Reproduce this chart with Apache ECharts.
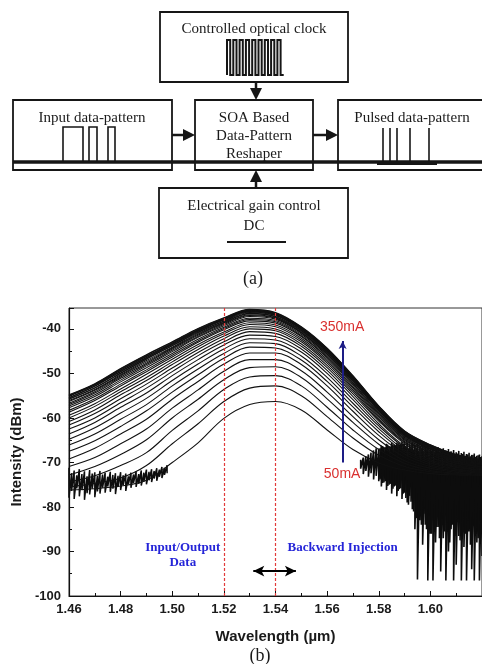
<!DOCTYPE html>
<html>
<head>
<meta charset="utf-8">
<script src="https://cdn.jsdelivr.net/npm/echarts@6/dist/echarts.min.js"></script>
<style>
  html, body { margin: 0; padding: 0; background: #fff; }
  #main { width: 482px; height: 664px; }
</style>
</head>
<body>
<div id="main"></div>
<script>
// wavelength grid (µm) and drive currents (mA)
var wavelengths = [1.46, 1.47, 1.48, 1.49, 1.50, 1.51, 1.52, 1.53, 1.54, 1.55, 1.56, 1.57, 1.58, 1.59, 1.60, 1.61, 1.62];
var currents = [50, 60, 70, 80, 90, 100, 110, 120, 130, 140, 150, 160, 170, 180, 190, 200,
  210, 220, 230, 240, 250, 260, 270, 280, 290, 300, 310, 320, 330, 340, 350];

// ASE spectra (dBm), one row per current
var spectra = [
  [-76.2, -75.9, -75.3, -74.0, -70.0, -65.6, -60.1, -57.0, -56.3, -58.2, -62.7, -67.1, -70.1, -71.7, -72.5, -72.8, -72.9],
  [-75.5, -74.7, -73.5, -70.7, -65.8, -61.3, -56.3, -53.3, -52.8, -55.0, -59.7, -64.5, -68.4, -70.9, -72.1, -72.6, -72.8],
  [-74.4, -73.0, -70.7, -67.8, -62.8, -58.4, -53.6, -50.8, -50.5, -52.8, -57.6, -62.7, -67.1, -70.2, -71.8, -72.4, -72.7],
  [-72.8, -70.9, -68.2, -64.9, -60.0, -55.8, -51.4, -48.7, -48.5, -50.9, -55.7, -61.0, -65.9, -69.6, -71.3, -72.2, -72.6],
  [-70.9, -68.9, -65.8, -62.5, -57.8, -53.7, -49.5, -46.9, -46.9, -49.4, -54.2, -59.7, -64.9, -68.8, -70.9, -71.9, -72.4],
  [-69.2, -66.8, -63.6, -60.3, -55.8, -51.8, -47.9, -45.4, -45.4, -48.0, -52.8, -58.5, -63.9, -68.1, -70.5, -71.6, -72.2],
  [-67.5, -65.1, -61.9, -58.4, -54.2, -50.3, -46.6, -44.1, -44.3, -47.0, -51.8, -57.5, -63.1, -67.6, -70.1, -71.4, -72.0],
  [-66.1, -63.6, -60.3, -57.0, -52.8, -49.0, -45.5, -43.1, -43.3, -46.1, -50.9, -56.7, -62.4, -67.2, -69.7, -71.1, -71.8],
  [-64.8, -62.2, -58.9, -55.6, -51.6, -47.9, -44.5, -42.2, -42.5, -45.2, -50.0, -55.9, -61.8, -66.6, -69.4, -70.9, -71.6],
  [-63.6, -61.0, -57.6, -54.4, -50.5, -46.9, -43.6, -41.4, -41.7, -44.5, -49.3, -55.2, -61.3, -66.3, -69.0, -70.7, -71.4],
  [-62.5, -60.0, -56.6, -53.3, -49.6, -46.0, -42.9, -40.6, -41.0, -43.9, -48.7, -54.6, -60.7, -65.8, -68.8, -70.5, -71.3],
  [-61.6, -59.0, -55.7, -52.4, -48.8, -45.3, -42.2, -40.0, -40.4, -43.4, -48.2, -54.1, -60.4, -65.5, -68.4, -70.2, -71.1],
  [-60.8, -58.2, -54.8, -51.6, -48.0, -44.6, -41.6, -39.5, -40.0, -42.9, -47.7, -53.7, -60.1, -65.3, -68.2, -70.1, -71.0],
  [-60.0, -57.4, -54.1, -50.9, -47.4, -44.0, -41.1, -39.0, -39.5, -42.5, -47.3, -53.3, -59.7, -65.0, -67.9, -69.9, -70.9],
  [-59.4, -56.8, -53.5, -50.2, -46.8, -43.5, -40.7, -38.6, -39.1, -42.1, -46.9, -53.0, -59.4, -64.8, -67.8, -69.7, -70.7],
  [-58.7, -56.1, -52.8, -49.6, -46.3, -43.0, -40.2, -38.2, -38.7, -41.7, -46.5, -52.6, -59.1, -64.6, -67.6, -69.6, -70.6],
  [-58.3, -55.7, -52.4, -49.2, -45.9, -42.7, -39.9, -37.9, -38.4, -41.5, -46.3, -52.3, -58.9, -64.4, -67.4, -69.4, -70.5],
  [-57.7, -55.2, -51.9, -48.7, -45.5, -42.3, -39.6, -37.6, -38.1, -41.2, -46.0, -52.1, -58.7, -64.2, -67.3, -69.3, -70.4],
  [-57.3, -54.8, -51.5, -48.3, -45.1, -41.9, -39.3, -37.2, -37.8, -40.9, -45.7, -51.8, -58.4, -64.0, -67.1, -69.2, -70.3],
  [-57.0, -54.4, -51.1, -48.0, -44.8, -41.7, -39.0, -37.0, -37.6, -40.8, -45.6, -51.7, -58.3, -63.9, -67.0, -69.1, -70.2],
  [-56.7, -54.1, -50.8, -47.7, -44.5, -41.4, -38.8, -36.8, -37.5, -40.6, -45.4, -51.5, -58.2, -63.8, -66.9, -69.0, -70.1],
  [-56.3, -53.8, -50.5, -47.4, -44.3, -41.2, -38.6, -36.6, -37.3, -40.4, -45.2, -51.3, -58.0, -63.7, -66.8, -68.9, -70.0],
  [-56.1, -53.6, -50.3, -47.1, -44.1, -41.0, -38.5, -36.5, -37.2, -40.3, -45.1, -51.3, -58.0, -63.6, -66.8, -68.9, -70.0],
  [-55.8, -53.3, -50.0, -46.8, -43.8, -40.8, -38.3, -36.3, -37.0, -40.1, -44.9, -51.1, -57.8, -63.5, -66.6, -68.7, -69.9],
  [-55.7, -53.2, -49.9, -46.7, -43.7, -40.7, -38.2, -36.2, -36.9, -40.0, -44.8, -51.0, -57.7, -63.4, -66.5, -68.6, -69.8],
  [-55.5, -52.9, -49.6, -46.5, -43.5, -40.5, -38.0, -36.1, -36.8, -40.0, -44.8, -50.9, -57.7, -63.4, -66.5, -68.6, -69.8],
  [-55.4, -52.8, -49.5, -46.4, -43.4, -40.4, -37.9, -36.0, -36.7, -39.9, -44.7, -50.8, -57.6, -63.3, -66.4, -68.5, -69.7],
  [-55.1, -52.6, -49.3, -46.2, -43.3, -40.3, -37.8, -35.9, -36.6, -39.8, -44.6, -50.8, -57.5, -63.2, -66.3, -68.5, -69.7],
  [-55.0, -52.5, -49.2, -46.1, -43.2, -40.2, -37.7, -35.8, -36.5, -39.7, -44.5, -50.7, -57.4, -63.1, -66.2, -68.4, -69.6],
  [-54.9, -52.4, -49.0, -45.9, -43.0, -40.0, -37.6, -35.7, -36.4, -39.6, -44.4, -50.6, -57.4, -63.0, -66.1, -68.3, -69.5],
  [-54.8, -52.3, -48.9, -45.8, -42.9, -39.9, -37.5, -35.6, -36.3, -39.5, -44.3, -50.5, -57.3, -62.9, -66.0, -68.2, -69.4]
];

// noise floor, short-wavelength side
var noiseLeftWl = [1.460, 1.461, 1.462, 1.463, 1.464, 1.465, 1.466, 1.467, 1.468, 1.469,
  1.470, 1.471, 1.472, 1.473, 1.474, 1.475, 1.476, 1.477, 1.478, 1.479,
  1.480, 1.481, 1.482, 1.483, 1.484, 1.485, 1.486, 1.487, 1.488, 1.489,
  1.490, 1.491, 1.492, 1.493, 1.494, 1.495, 1.496, 1.497, 1.498];
var noiseLeftTop = [-71.2, -72.4, -71.8, -72.9, -71.5, -72.6, -72.0, -73.1, -71.7, -72.5,
  -72.2, -73.0, -71.9, -72.7, -72.3, -73.2, -72.1, -72.8, -72.4, -73.0,
  -72.2, -72.9, -72.5, -73.1, -72.3, -72.7, -72.0, -72.6, -71.8, -72.3,
  -71.6, -72.1, -71.5, -71.9, -71.3, -71.6, -71.0, -71.2, -70.6];
var noiseLeftLow = [-77.9, -76.4, -78.2, -75.8, -77.6, -76.2, -78.4, -76.9, -77.2, -75.9,
  -77.8, -76.5, -77.0, -75.7, -76.8, -75.4, -76.6, -75.9, -77.1, -75.5,
  -76.2, -75.1, -76.4, -74.9, -75.7, -74.6, -75.5, -74.8, -75.2, -74.3,
  -74.9, -74.0, -74.4, -73.6, -74.1, -73.2, -73.5, -72.8, -72.4];

// noise floor, long-wavelength side
var noiseRightWl = [1.573, 1.574, 1.575, 1.576, 1.577, 1.578, 1.579,
  1.580, 1.581, 1.582, 1.583, 1.584, 1.585, 1.586, 1.587, 1.588, 1.589,
  1.590, 1.591, 1.592, 1.593, 1.594, 1.595, 1.596, 1.597, 1.598, 1.599,
  1.600, 1.601, 1.602, 1.603, 1.604, 1.605, 1.606, 1.607, 1.608, 1.609,
  1.610, 1.611, 1.612, 1.613, 1.614, 1.615, 1.616, 1.617, 1.618, 1.619, 1.620];
var noiseRightTop = [-69.4, -68.9, -68.6, -68.2, -67.8, -67.3, -66.8,
  -66.9, -66.2, -66.6, -65.8, -66.3, -65.6, -66.1, -65.5, -65.9, -65.4,
  -65.8, -65.5, -66.0, -65.6, -66.1, -65.8, -66.3, -66.0, -66.5, -66.2,
  -66.7, -66.4, -66.9, -66.6, -67.1, -66.8, -67.3, -67.0, -67.5, -67.2,
  -67.7, -67.4, -67.9, -67.6, -68.1, -67.8, -68.3, -68.0, -68.5, -68.2, -68.6];
var noiseRightLow = [-71.4, -72.6, -71.9, -73.2, -72.4, -73.8, -73.0,
  -74.2, -75.4, -74.5, -76.2, -75.0, -77.0, -75.4, -77.6, -76.0, -78.2,
  -76.8, -79.0, -77.5, -80.5, -85.0, -96.3, -83.0, -88.5, -84.0, -96.5,
  -86.0, -96.5, -88.0, -84.5, -94.5, -87.0, -96.5, -90.0, -85.0, -96.5,
  -93.0, -86.5, -96.5, -89.0, -96.5, -85.5, -94.0, -96.5, -88.0, -96.5, -91.0];
var noiseCoreWl = [1.5805, 1.5815, 1.5825, 1.5835, 1.5845, 1.5855, 1.5865, 1.5875, 1.5885, 1.5895,
  1.5905, 1.5915, 1.5925, 1.5935, 1.5945, 1.5955, 1.5965, 1.5975, 1.5985, 1.5995,
  1.6005, 1.6015, 1.6025, 1.6035, 1.6045, 1.6055, 1.6065, 1.6075, 1.6085, 1.6095,
  1.6105, 1.6115, 1.6125, 1.6135, 1.6145, 1.6155, 1.6165, 1.6175, 1.6185, 1.6195];
var noiseCoreTop = [-66.8, -66.3, -66.6, -66.0, -66.4, -65.9, -66.2, -65.7, -66.1, -65.8,
  -66.5, -67.0, -66.6, -67.2, -66.8, -67.4, -67.0, -67.5, -67.1, -67.6,
  -67.3, -67.8, -67.4, -67.9, -67.5, -68.0, -67.7, -68.2, -67.9, -68.3,
  -68.0, -68.4, -68.1, -68.5, -68.2, -68.6, -68.3, -68.7, -68.4, -68.8];
var noiseCoreLow = [-73.8, -74.6, -74.2, -75.3, -74.8, -75.9, -75.2, -76.4, -75.8, -77.0,
  -78.0, -79.5, -78.8, -81.0, -82.5, -80.5, -84.0, -81.5, -85.0, -82.0,
  -86.0, -83.0, -84.5, -87.0, -82.5, -85.5, -83.5, -88.0, -84.0, -86.5,
  -82.5, -87.5, -84.5, -86.0, -83.0, -88.5, -84.0, -85.5, -87.0, -83.5];

// annotations (data coordinates)
var windowEdges = [1.524, 1.539];
var currentArrow = { wl: 1.566, from: -70, to: -42.7 };
var bandArrow = { from: 1.5314, to: 1.5479, db: -94.4 };

var myChart = echarts.init(document.getElementById('main'));

function zigzag(wl, top, low) {
  var pts = [];
  for (var i = 0; i < wl.length; i++) {
    pts.push([wl[i], top[i]]);
    pts.push([wl[i], low[i]]);
  }
  return pts;
}

var axisFont = { fontFamily: 'Liberation Sans', fontWeight: 'bold', fontSize: 13, color: '#1a1a1a' };
var nameFont = { fontFamily: 'Liberation Sans', fontWeight: 'bold', fontSize: 15, color: '#1a1a1a' };

var series = [];
[[noiseLeftWl, noiseLeftTop, noiseLeftLow, 1.5],
 [noiseRightWl, noiseRightTop, noiseRightLow, 1.6],
 [noiseCoreWl, noiseCoreTop, noiseCoreLow, 1.6]].forEach(function (n) {
  series.push({
    type: 'line', data: zigzag(n[0], n[1], n[2]),
    showSymbol: false, silent: true, lineStyle: { color: '#0d0d0d', width: n[3] }
  });
});
spectra.forEach(function (vals, k) {
  series.push({
    name: currents[k] + 'mA',
    type: 'line',
    data: wavelengths.map(function (w, i) { return [w, vals[i]]; }),
    smooth: 0.35,
    showSymbol: false,
    silent: true,
    lineStyle: { color: '#111', width: 1.1 }
  });
});
// markers on top of the last curve
series[series.length - 1].markLine = {
  silent: true,
  animation: false,
  label: { show: false },
  symbol: 'none',
  data: [
    { xAxis: windowEdges[0], lineStyle: { color: '#e23a3a', type: [3, 2], width: 1.2 } },
    { xAxis: windowEdges[1], lineStyle: { color: '#e23a3a', type: [3, 2], width: 1.2 } },
    [
      { coord: [currentArrow.wl, currentArrow.from], symbol: 'none', lineStyle: { color: '#1d1d86', width: 2, type: 'solid' } },
      { coord: [currentArrow.wl, currentArrow.to], symbol: 'arrow', symbolSize: [6, 8] }
    ],
    [
      { coord: [bandArrow.from, bandArrow.db], symbol: 'arrow', symbolSize: [8, 11], lineStyle: { color: '#000', width: 2, type: 'solid' } },
      { coord: [bandArrow.to, bandArrow.db], symbol: 'arrow', symbolSize: [8, 11] }
    ]
  ]
};

myChart.setOption({
  animation: false,
  grid: { left: 69, right: -15, top: 308, bottom: 68, show: true, borderColor: '#333', borderWidth: 1 },
  xAxis: {
    type: 'value', min: 1.46, max: 1.62, interval: 0.02,
    name: 'Wavelength (µm)', nameLocation: 'middle', nameGap: 33, nameTextStyle: nameFont,
    axisLine: { onZero: false, lineStyle: { color: '#111', width: 1.2 } },
    axisTick: { inside: true, length: 5, lineStyle: { color: '#111' } },
    minorTick: { show: true, splitNumber: 2, length: 3, lineStyle: { color: '#111' } },
    axisLabel: Object.assign({ margin: 7, showMaxLabel: false, formatter: function (v) { return v.toFixed(2); } }, axisFont),
    splitLine: { show: false }
  },
  yAxis: {
    type: 'value', min: -100, max: -35.3, interval: 10,
    name: 'Intensity (dBm)', nameLocation: 'middle', nameGap: 45, nameTextStyle: nameFont,
    axisLine: { onZero: false, lineStyle: { color: '#111', width: 1.2 } },
    axisTick: { inside: true, length: 5, lineStyle: { color: '#111' } },
    minorTick: { show: true, splitNumber: 2, length: 3, lineStyle: { color: '#111' } },
    axisLabel: Object.assign({ margin: 8, showMaxLabel: false }, axisFont),
    splitLine: { show: false }
  },
  series: series
});

// ---- block diagram (a) and chart text labels ----
var g = [];
var ink = '#161616';
function box(x, y, w, h) {
  g.push({ type: 'rect', shape: { x: x, y: y, width: w, height: h }, style: { fill: 'none', stroke: ink, lineWidth: 1.8 } });
}
function poly(pts, w) {
  g.push({ type: 'polyline', shape: { points: pts }, style: { fill: 'none', stroke: ink, lineWidth: w || 1.6 } });
}
function txt(x, y, s, font, color) {
  g.push({ type: 'text', x: x, y: y, style: { text: s, font: font, fill: color || '#1a1a1a', align: 'center', verticalAlign: 'middle' } });
}
function head(x, y, dir) {
  var l = 12, s = 6, p;
  if (dir === 'down') p = [[x, y], [x - s, y - l], [x + s, y - l]];
  if (dir === 'up') p = [[x, y], [x - s, y + l], [x + s, y + l]];
  if (dir === 'right') p = [[x, y], [x - l, y - s], [x - l, y + s]];
  g.push({ type: 'polygon', shape: { points: p }, style: { fill: ink } });
}
var serif = '15px "Liberation Serif"';

box(160, 12, 188, 70);
box(13, 100, 159, 70);
box(195, 100, 118, 70);
box(338, 100, 160, 70);
box(159, 188, 189, 70);

// common data line
poly([[13, 162], [482, 162]], 3.5);
poly([[377, 164], [437, 164]], 2);

// clock comb
var clk = [[227, 75]];
for (var c = 0; c < 9; c++) {
  var x0 = 227 + c * 6.3;
  clk.push([x0, 40], [x0 + 3.2, 40], [x0 + 3.2, 75], [x0 + 6.3, 75]);
}
poly(clk, 2);

// input data pattern
poly([[63, 162], [63, 127], [83, 127], [83, 162]], 1.6);
poly([[89, 162], [89, 127], [97, 127], [97, 162]], 1.6);
poly([[108, 162], [108, 127], [115, 127], [115, 162]], 1.6);

// pulsed output
[383, 390, 397, 410, 429].forEach(function (x) { poly([[x, 128], [x, 162]], 1.6); });

// arrows
poly([[256, 82], [256, 90]], 2.5); head(256, 100, 'down');
poly([[172, 135], [185, 135]], 2.5); head(195, 135, 'right');
poly([[313, 135], [328, 135]], 2.5); head(338, 135, 'right');
poly([[256, 188], [256, 180]], 2.5); head(256, 170, 'up');

// DC level
poly([[227, 242], [286, 242]], 1.8);

txt(254, 29, 'Controlled optical clock', serif);
txt(92, 118, 'Input data-pattern', serif);
txt(254, 118, 'SOA Based', serif);
txt(254, 136, 'Data-Pattern', serif);
txt(254, 154, 'Reshaper', serif);
txt(412, 118, 'Pulsed data-pattern', serif);
txt(254, 206, 'Electrical gain control', serif);
txt(254, 226, 'DC', serif);
txt(253, 279, '(a)', '18px "Liberation Serif"');
txt(260, 656, '(b)', '18px "Liberation Serif"');

// labels placed in data space
var notes = [
  { s: '350mA', wl: 1.5658, db: -39.6, font: '14px "Liberation Sans"', color: '#d9302f' },
  { s: '50mA', wl: 1.5658, db: -72.6, font: '14px "Liberation Sans"', color: '#d9302f' },
  { s: 'Input/Output', wl: 1.5041, db: -89.2, font: 'bold 13px "Liberation Serif"', color: '#2525d8' },
  { s: 'Data', wl: 1.5041, db: -92.6, font: 'bold 13px "Liberation Serif"', color: '#2525d8' },
  { s: 'Backward Injection', wl: 1.566, db: -89.2, font: 'bold 13px "Liberation Serif"', color: '#2525d8' }
];
notes.forEach(function (n) {
  var p = myChart.convertToPixel({ gridIndex: 0 }, [n.wl, n.db]);
  txt(p[0], p[1], n.s, n.font, n.color);
});

myChart.setOption({ graphic: g });
</script>
</body>
</html>
